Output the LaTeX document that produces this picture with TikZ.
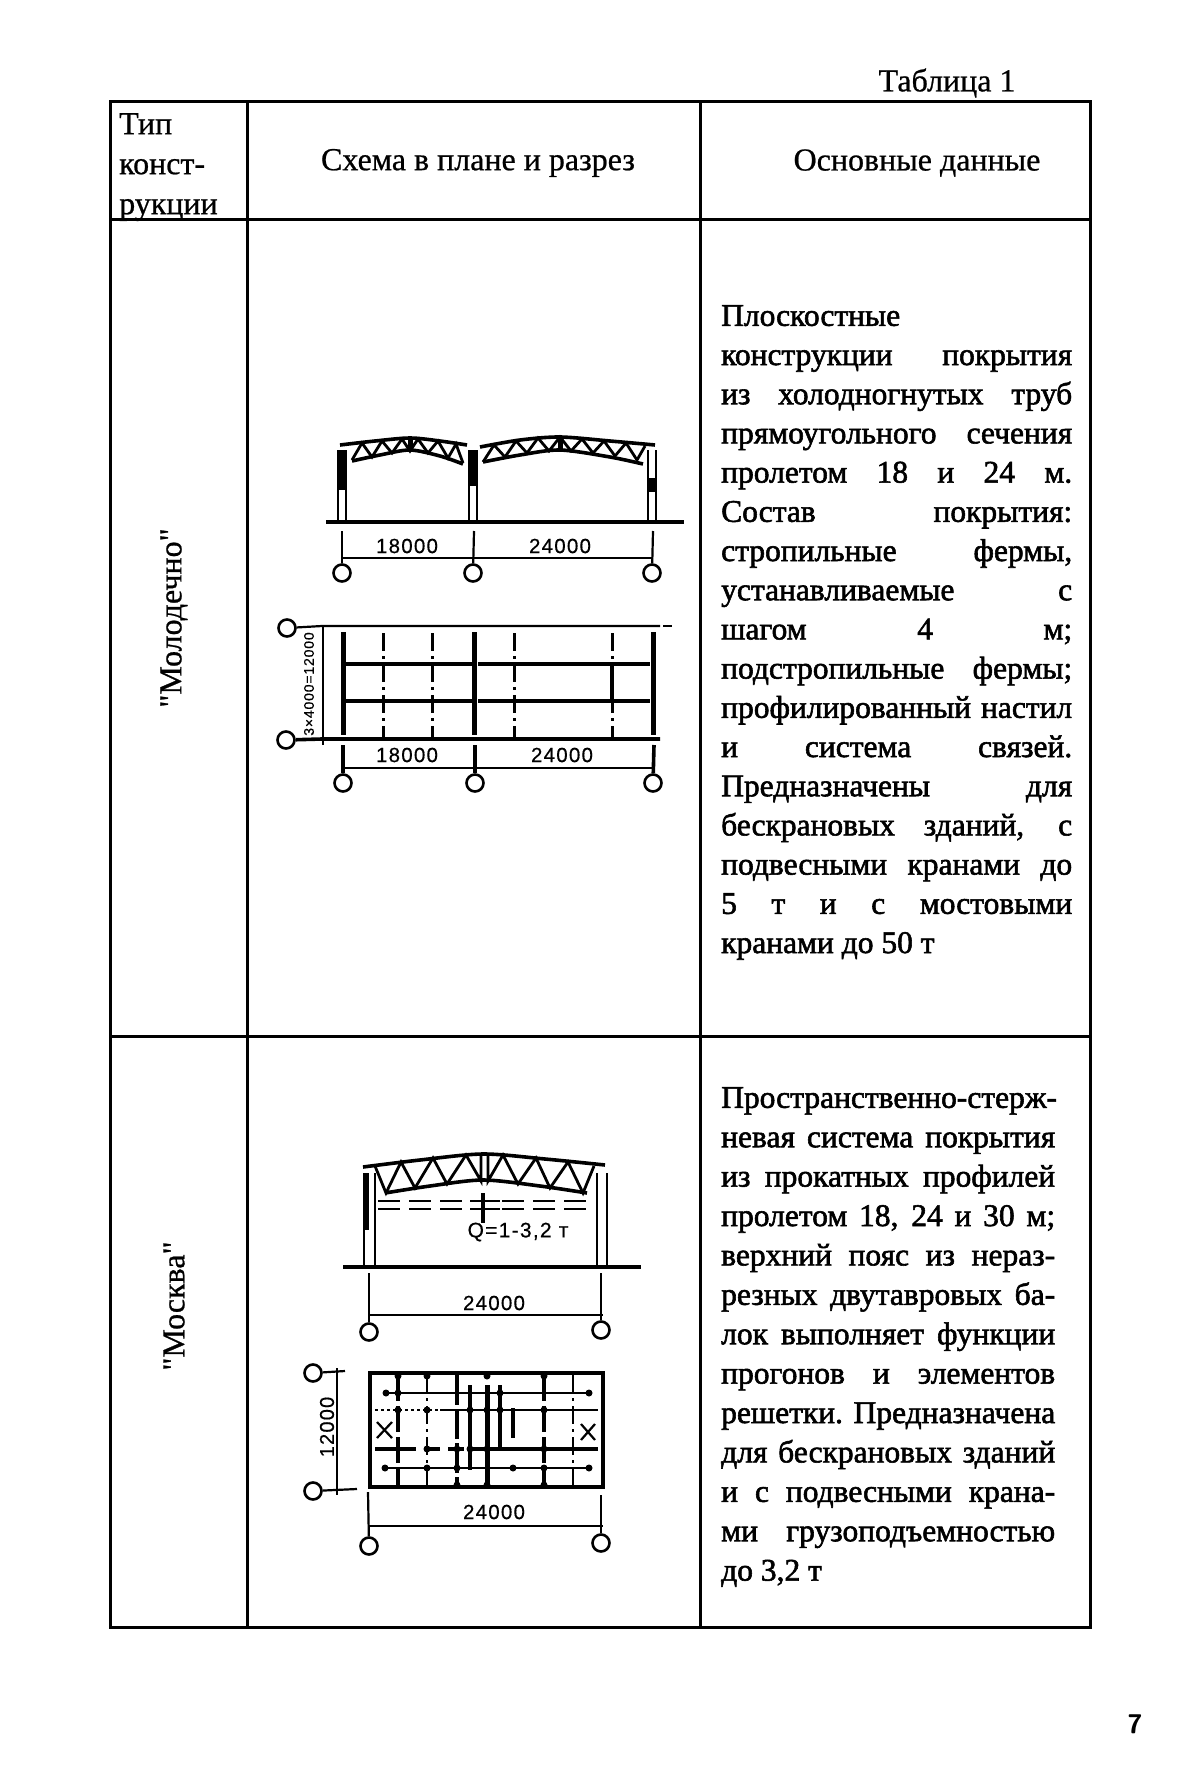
\documentclass[tikz,border=0pt]{standalone}
\usepackage{fontspec}
\setmainfont{Liberation Serif}[AutoFakeBold=1.8]
\newfontfamily\headfont{Liberation Serif}[FakeBold=0.7]
\newfontfamily\digitfont{Liberation Sans}[LetterSpace=6, FakeBold=0.5]
\usetikzlibrary{positioning}
\tikzstyle{frame} = [draw, line width=3pt]
\tikzstyle{axis} = [circle, draw, line width=2.6pt, minimum size=17pt, inner sep=0pt]
\tikzstyle{thin} = [draw, line width=2.2pt]
\tikzstyle{web} = [draw, line width=2.8pt]
\tikzstyle{thick} = [draw, line width=3.6pt]
\tikzstyle{heavy} = [draw, line width=5pt]
\tikzstyle{gapped} = [draw, line width=3pt, dash pattern=on 18pt off 5pt on 3pt off 5pt]
\tikzstyle{crane} = [draw, line width=2.4pt, dash pattern=on 22pt off 9pt]
\tikzstyle{knot} = [circle, fill, inner sep=0pt, minimum size=7pt]
\tikzstyle{size} = [font=\digitfont\fontsize{20.5}{20.5}\selectfont, inner sep=0pt]
\tikzstyle{head} = [font=\headfont\fontsize{32}{40}\selectfont, inner sep=0pt]
\tikzstyle{body} = [font=\bfseries\fontsize{31.5}{39.2}\selectfont, inner sep=0pt, anchor=north west, align=justify]
\tolerance=10000
\hbadness=10000
\hfuzz=20pt
\hyphenpenalty=10000

\begin{document}
\begin{tikzpicture}[x=1pt, y=-1pt]
	\useasboundingbox (0,0) rectangle (1200,1790);
	
	% table
	\path [frame] (110,102) rectangle (1090,1627);
	\path [frame] (247,102) -- (247,1627);
	\path [frame] (700,102) -- (700,1627);
	\path [frame] (110,219) -- (1090,219);
	\path [frame] (110,1036) -- (1090,1036);
	
	\node [head] (tablenum) at (947,83) {Таблица 1};
	\node [head, align=left, anchor=north west] (typehead) at (119,113) {Тип\\ конст-\\ рукции};
	\node [head] (schemehead) at (478,163) {Схема в плане и разрез};
	\node [head] (datahead) at (917,163) {Основные данные};
	\node [head, rotate=90] (molodechno) at (174,618) {"Молодечно"};
	\node [head, rotate=90] (moskva) at (174,1306) {"Москва"};
	\node [font=\bfseries\sffamily\fontsize{27}{27}\selectfont, inner sep=0pt] (pagenum) at (1135,1724) {7};
	
	\node [body, text width=351pt] (molodechnotext) at (721,305) {Плоскостные\linebreak
		конструкции покрытия\linebreak из холодногнутых труб\linebreak
		прямоугольного сечения\linebreak пролетом 18 и 24 м.\linebreak
		Состав покрытия:\linebreak стропильные фермы,\linebreak
		устанавливаемые с\linebreak шагом 4 м;\linebreak
		подстропильные фермы;\linebreak профилированный настил\linebreak
		и система связей.\linebreak Предназначены для\linebreak
		бескрановых зданий, с\linebreak подвесными кранами до\linebreak
		5 т и с мостовыми\linebreak кранами до 50 т\par};
	\node [body, text width=334pt] (moskvatext) at (721,1087) {\baselineskip=39.4pt \mbox{Пространственно-стерж-}\linebreak
		невая система покрытия\linebreak из прокатных профилей\linebreak
		пролетом 18, 24 и 30 м;\linebreak верхний пояс из нераз-\linebreak
		резных двутавровых ба-\linebreak лок выполняет функции\linebreak
		прогонов и элементов\linebreak решетки. Предназначена\linebreak
		для бескрановых зданий\linebreak и с подвесными крана-\linebreak
		ми грузоподъемностью\linebreak до 3,2 т\par};
	
	% section, two spans
	\path [thick] (326,522) -- (684,522);
	\foreach \x in {338,346,469,477,648,656} {
		\path [thin] (\x,450) -- (\x,522);
	}
	\path [fill] (337,450) rectangle (347,490);
	\path [fill] (468,450) rectangle (476,486);
	\path [fill] (648,478) rectangle (656,492);
	\path [thick] plot [smooth] coordinates {(340,445) (375,441) (410,438) (440,441) (467,445)};
	\path [thick] plot [smooth] coordinates {(352,461) (380,455) (410,450) (440,456) (463,464)};
	\path [thick] plot [smooth] coordinates {(480,447) (520,440) (560,437) (610,441) (655,445)};
	\path [thick] plot [smooth] coordinates {(483,462) (520,455) (560,450) (610,457) (643,464)};
	\path [web] plot coordinates {(352,460) (362,443) (372,457) (382,441) (392,453) (402,439) (410,451) (418,439) (428,453) (438,441) (448,458) (456,444) (463,463)};
	\path [web] plot coordinates {(483,462) (494,445) (505,457) (516,441) (527,453) (538,438) (549,451) (560,437) (571,451) (582,439) (593,453) (604,441) (615,456) (626,443) (637,460) (645,446)};
	\path [fill] (408,438) rectangle (413,451);
	\path [fill] (558,437) rectangle (563,451);
	
	\node [axis] (a1) at (342,573) {};
	\node [axis] (a2) at (473,573) {};
	\node [axis] (a3) at (652,573) {};
	\path [thin] (342,531) -- (a1);
	\path [thin] (474,531) -- (a2);
	\path [thin] (653,531) -- (a3);
	\path [thin] (342,558) -- (653,558);
	\node [size] (span1) at (407,546) {18000};
	\node [size] (span2) at (560,546) {24000};
	
	% plan, two spans
	\node [axis] (b1) at (287,628) {};
	\node [axis] (b2) at (286,740) {};
	\path [thin] (b1) -- (322,626) -- (660,626);
	\path [thin] (663,626) -- (672,626);
	\path [thick] (b2) -- (322,739) -- (660,739);
	\path [thin] (323,626) -- (323,745);
	\node [font=\digitfont\fontsize{14}{14}\selectfont, inner sep=0pt, rotate=90] (bayspan) at (309,684) {3×4000=12000};
	\foreach \x in {343,474,653} {
		\path [heavy] (\x,632) -- (\x,735);
	}
	\foreach \x in {383,432,514,612} {
		\path [gapped] (\x,633) -- (\x,738);
	}
	\path [thick] (612,664) -- (612,701);
	\foreach \y in {664,701} {
		\path [thick] (345,\y) -- (472,\y);
		\path [thick] (478,\y) -- (650,\y);
	}
	\node [axis] (c1) at (343,783) {};
	\node [axis] (c2) at (475,783) {};
	\node [axis] (c3) at (653,783) {};
	\path [thick] (343,745) -- (c1);
	\path [thick] (475,745) -- (c2);
	\path [thick] (654,745) -- (c3);
	\path [thin] (343,768) -- (654,768);
	\node [size] (span3) at (407,755) {18000};
	\node [size] (span4) at (562,755) {24000};
	
	% section, one span
	\path [thick] (343,1267) -- (641,1267);
	\foreach \x in {364,375,597,607} {
		\path [thin] (\x,1173) -- (\x,1267);
	}
	\path [fill] (364,1173) rectangle (369,1230);
	\path [thick] plot [smooth] coordinates {(363,1167) (420,1160) (483,1154) (545,1159) (605,1165)};
	\path [thick] plot [smooth] coordinates {(385,1193) (430,1186) (483,1180) (540,1186) (587,1193)};
	\path [web] plot coordinates {(375,1166) (386,1193) (401,1162) (415,1188) (433,1158) (447,1184) (466,1155) (481,1181) (481,1155)};
	\path [web] plot coordinates {(488,1155) (488,1181) (503,1155) (518,1184) (536,1158) (550,1188) (568,1162) (583,1193) (594,1166)};
	\path [crane] (378,1201) -- (592,1201);
	\path [crane] (378,1209) -- (592,1209);
	\path [thick] (483,1193) -- (483,1223);
	\path [thin] (470,1201) -- (500,1201);
	\path [thin] (470,1209) -- (500,1209);
	\node [font=\digitfont\fontsize{21}{21}\selectfont, inner sep=0pt] (load) at (518,1232) {Q=1-3,2 т};
	
	\node [axis] (d1) at (369,1332) {};
	\node [axis] (d2) at (601,1330) {};
	\path [thin] (369,1273) -- (d1);
	\path [thin] (601,1273) -- (d2);
	\path [thin] (369,1315) -- (603,1315);
	\node [size] (span5) at (494,1303) {24000};
	
	% plan, one span
	\path [draw, line width=3.6pt] (370,1373) rectangle (603,1487);
	\node [axis] (e1) at (313,1373) {};
	\node [axis] (e2) at (313,1491) {};
	\path [thin] (e1) -- (345,1371);
	\path [thin] (e2) -- (357,1489);
	\path [thin] (337,1368) -- (337,1495);
	\node [font=\digitfont\fontsize{20}{20}\selectfont, inner sep=0pt, rotate=90] (depth) at (327,1427) {12000};
	\foreach \y in {1393,1468} {
		\path [thin] (385,\y) -- (587,\y);
	}
	\path [thin, dashed] (375,1410) -- (470,1410);
	\path [thin] (440,1410) -- (598,1410);
	\path [thick] (375,1449) -- (400,1449);
	\path [thick, dash pattern=on 16pt off 8pt] (400,1449) -- (470,1449);
	\path [thick] (470,1449) -- (598,1449);
	\foreach \x in {427,573} {
		\path [gapped, line width=2pt] (\x,1375) -- (\x,1485);
	}
	\foreach \x in {398,544} {
		\path [thick, dash pattern=on 26pt off 5pt] (\x,1375) -- (\x,1485);
	}
	\path [thick, dash pattern=on 30pt off 4pt] (457,1375) -- (457,1485);
	\path [thick] (470,1385) -- (470,1470);
	\path [heavy] (487,1385) -- (487,1485);
	\path [thick] (500,1385) -- (500,1450);
	\path [thick] (513,1408) -- (513,1438);
	\path [thin] (377,1422) -- (392,1438);
	\path [thin] (392,1422) -- (377,1438);
	\path [thin] (581,1424) -- (595,1440);
	\path [thin] (595,1424) -- (581,1440);
	\foreach \x/\y in {386/1393, 398/1393, 427/1410, 398/1410, 427/1449, 457/1449, 470/1410, 470/1449, 487/1410, 487/1449, 500/1393, 500/1410, 544/1449, 544/1410, 589/1393, 385/1468, 589/1468, 427/1468, 457/1468, 513/1468, 544/1468, 427/1376, 398/1376, 487/1376, 544/1376, 487/1485, 544/1485, 457/1485} {
		\node [knot] at (\x,\y) {};
	}
	
	\node [axis] (f1) at (369,1546) {};
	\node [axis] (f2) at (601,1543) {};
	\path [thin] (368,1492) -- (f1);
	\path [thin] (601,1495) -- (f2);
	\path [web] (368,1526) -- (603,1526);
	\node [size] (span6) at (494,1512) {24000};
\end{tikzpicture}
\end{document}
